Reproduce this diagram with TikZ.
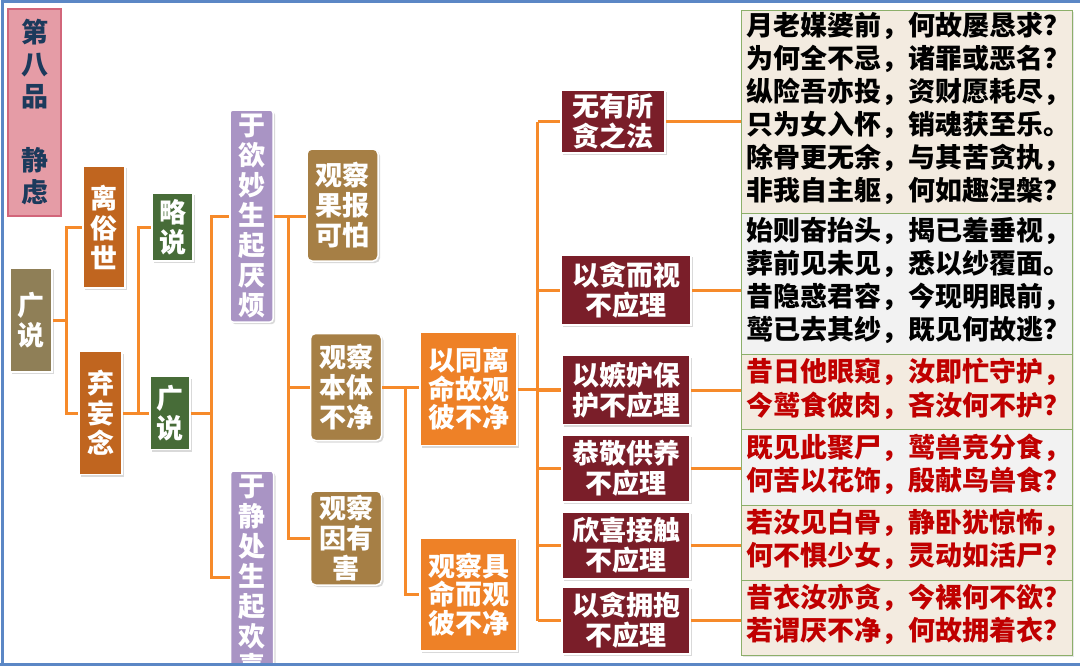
\documentclass[tikz,border=0pt]{standalone}
\usepackage{fontspec}
\setmainfont{Noto Sans CJK SC}
\usetikzlibrary{shadows}
\definecolor{pinkbg}{HTML}{E59CA6}
\definecolor{pinkline}{HTML}{D2667A}
\definecolor{titleblue}{HTML}{1C3A5C}
\definecolor{olive}{HTML}{8F7F57}
\definecolor{rust}{HTML}{C0651F}
\definecolor{leaf}{HTML}{476C38}
\definecolor{lav}{HTML}{A994C4}
\definecolor{tan}{HTML}{A67F45}
\definecolor{amber}{HTML}{EE8127}
\definecolor{wine}{HTML}{7A1E29}
\definecolor{lineorange}{HTML}{F68A2A}
\definecolor{panelgreen}{HTML}{8CAF6A}
\definecolor{beige}{HTML}{F3EBE0}
\definecolor{pale}{HTML}{F2F2F2}
\definecolor{verse}{HTML}{C00000}
\definecolor{frameblue}{HTML}{5B87C5}
\newcommand{\verselines}[1]{\hspace*{4pt}\begin{tabular}{@{}l@{}}#1\end{tabular}}
\begin{document}
\begin{tikzpicture}[x=1pt,y=-1pt]
\tikzstyle{every node}=[inner sep=0pt,align=center,text=white,font=\bfseries\fontsize{27}{30}\selectfont]
\tikzstyle{box}=[draw=white,line width=1.5pt,drop shadow={shadow xshift=2pt,shadow yshift=-2pt,opacity=0.3}]
\tikzstyle{conn}=[draw=lineorange,line width=3pt]
\tikzstyle{panel}=[draw=panelgreen,line width=1pt,minimum width=331pt,text=black,
  font=\bfseries\fontsize{27}{32}\selectfont,drop shadow={shadow xshift=2pt,shadow yshift=-2pt,opacity=0.2}]
\useasboundingbox (0,0) rectangle (1080,667);
\begin{scope}
\clip (0,0) rectangle (1080,663);
% title
\node[fill=pinkbg,draw=pinkline,line width=2pt,text=titleblue,minimum width=53pt,minimum height=207pt,
  font=\bfseries\fontsize{27}{32}\selectfont](title) at (34.5,112.5) {第\\八\\品\\[32pt]静\\虑};
% left columns
\node[box,fill=olive,minimum width=42pt,minimum height=104pt](gs1) at (31,320) {广\\说};
\node[box,fill=rust,minimum width=42pt,minimum height=122pt](lsh) at (104,227) {离\\俗\\世};
\node[box,fill=rust,minimum width=43pt,minimum height=123pt](qwn) at (100.5,413) {弃\\妄\\念};
\node[box,fill=leaf,minimum width=41pt,minimum height=68pt](ls) at (172.5,227) {略\\说};
\node[box,fill=leaf,minimum width=40pt,minimum height=73pt](gs2) at (170,413) {广\\说};
\node[box,fill=lav,rounded corners=3pt,minimum width=43pt,minimum height=212pt](yy) at (251.5,216) {于\\欲\\妙\\生\\起\\厌\\烦};
\node[box,fill=lav,rounded corners=3pt,minimum width=43pt,minimum height=212pt](yj) at (252,577) {于\\静\\处\\生\\起\\欢\\喜};
% observations
\node[box,fill=tan,rounded corners=5pt,minimum width=71pt,minimum height=112pt](gb1) at (342.5,205) {观察\\果报\\可怕};
\node[box,fill=tan,rounded corners=5pt,minimum width=71pt,minimum height=107pt](gb2) at (346,387) {观察\\本体\\不净};
\node[box,fill=tan,rounded corners=5pt,minimum width=71pt,minimum height=94pt](gb3) at (346,538) {观察\\因有\\害};
\node[box,fill=amber,minimum width=97pt,minimum height=113pt,font=\bfseries\fontsize{27}{28.5}\selectfont](tl) at (468.5,389) {以同离\\命故观\\彼不净};
\node[box,fill=amber,minimum width=97pt,minimum height=113pt,font=\bfseries\fontsize{27}{28.5}\selectfont](gm) at (468.5,594.5) {观察具\\命而观\\彼不净};
% reasons
\node[box,fill=wine,minimum width=104pt,minimum height=63pt](r1) at (613,121.5) {无有所\\贪之法};
\node[box,fill=wine,minimum width=130pt,minimum height=70pt](r2) at (626,290) {以贪而视\\不应理};
\node[box,fill=wine,minimum width=128pt,minimum height=69pt](r3) at (626,390) {以嫉妒保\\护不应理};
\node[box,fill=wine,minimum width=128pt,minimum height=67pt](r4) at (626,468.5) {恭敬供养\\不应理};
\node[box,fill=wine,minimum width=128pt,minimum height=67pt](r5) at (626,545.5) {欣喜接触\\不应理};
\node[box,fill=wine,minimum width=128pt,minimum height=67pt](r6) at (626,620.5) {以贪拥抱\\不应理};
% verses
\node[panel,fill=beige,minimum height=203pt](p1) at (906.5,111.5) {\verselines{月老媒婆前，何故屡恳求？\\为何全不忌，诸罪或恶名？\\纵险吾亦投，资财愿耗尽，\\只为女入怀，销魂获至乐。\\除骨更无余，与其苦贪执，\\非我自主躯，何如趣涅槃？}};
\node[panel,fill=pale,minimum height=141pt](p2) at (906.5,283.5) {\verselines{始则奋抬头，揭已羞垂视，\\葬前见未见，悉以纱覆面。\\昔隐惑君容，今现明眼前，\\鹫已去其纱，既见何故逃？}};
\node[panel,fill=beige,minimum height=75pt,text=verse](p3) at (906.5,391.5) {\verselines{昔日他眼窥，汝即忙守护，\\今鹫食彼肉，吝汝何不护？}};
\node[panel,fill=pale,minimum height=76pt,text=verse](p4) at (906.5,467) {\verselines{既见此聚尸，鹫兽竞分食，\\何苦以花饰，殷献鸟兽食？}};
\node[panel,fill=beige,minimum height=75pt,text=verse](p5) at (906.5,542.5) {\verselines{若汝见白骨，静卧犹惊怖，\\何不惧少女，灵动如活尸？}};
\node[panel,fill=beige,minimum height=75pt,text=verse](p6) at (906.5,617.5) {\verselines{昔衣汝亦贪，今裸何不欲？\\若谓厌不净，何故拥着衣？}};
% connectors
\draw[conn] (gs1.east) -- ++(14,0) coordinate (ba) |- (lsh.west);
\draw[conn] (ba) |- (qwn.west);
\draw[conn] (qwn.east) -- (gs2.west);
\draw[conn] ([xshift=16pt]qwn.east) coordinate (bb) |- (ls.west);
\draw[conn] (gs2.east) -- ++(21,0) coordinate (bc) |- (yy.west);
\draw[conn] (bc) |- (yj.west);
\draw[conn] (yy.east) -- (yy.east -| gb1.west);
\draw[conn] ([xshift=15pt]yy.east) coordinate (bd) |- (gb3.west);
\draw[conn] (bd |- gb2.west) -- (gb2.west);
\draw[conn] (gb2.east) -- (gb2.east -| tl.west);
\draw[conn] ([xshift=23pt]gb2.east) coordinate (be) |- (gm.west);
\draw[conn] (tl.east) -- (tl.east -| r3.west);
\draw[conn] ([xshift=20pt]tl.east) coordinate (bf);
\draw[conn] (bf |- r1.west) -- (bf |- r6.west);
\foreach \n in {1,...,6}
  \draw[conn] (bf |- r\n.west) -- (r\n.west);
\foreach \n in {1,...,6}
  \draw[conn] (r\n.east) -- (r\n.east -| p\n.west);
\end{scope}
% frame
\draw[frameblue,line width=3pt] (2,663) -- (2,1.5) -- (1080,1.5);
\draw[frameblue,line width=3pt] (0,664.5) -- (1080,664.5);
\end{tikzpicture}
\end{document}
